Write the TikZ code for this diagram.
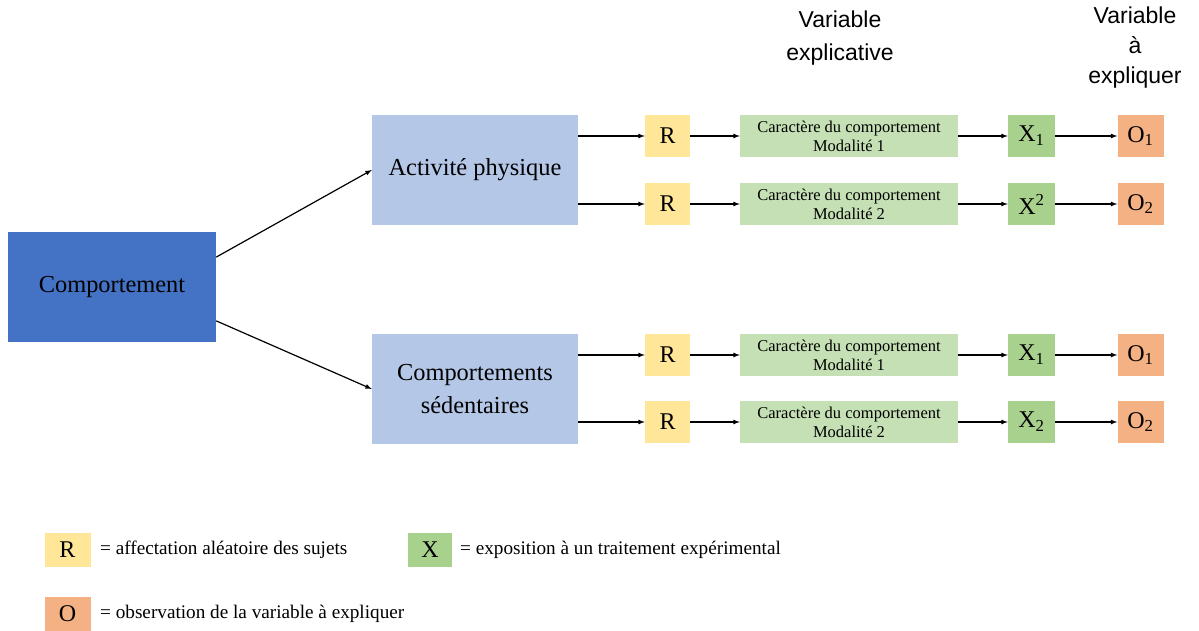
\documentclass[tikz,border=0pt]{standalone}
\usepackage{fontspec}
\setmainfont{Liberation Serif}
\setsansfont{Liberation Sans}
\definecolor{compblue}{HTML}{4472C4}
\definecolor{lightblue}{HTML}{B4C7E7}
\definecolor{ryellow}{HTML}{FFE699}
\definecolor{lightgreen}{HTML}{C5E0B4}
\definecolor{xgreen}{HTML}{A9D18E}
\definecolor{oorange}{HTML}{F4B183}
\begin{document}
\begin{tikzpicture}[x=1pt,y=-1pt]
\tikzstyle{bigbox}=[inner sep=0pt,align=center,minimum width=206pt,minimum height=110pt,font=\fontsize{24.4}{33}\selectfont]
\tikzstyle{rbox}=[fill=ryellow,inner sep=0pt,minimum width=45pt,minimum height=42pt,font=\fontsize{24}{28}\selectfont]
\tikzstyle{carbox}=[fill=lightgreen,inner sep=0pt,align=center,minimum width=218pt,minimum height=42pt,font=\fontsize{16.5}{19}\selectfont]
\tikzstyle{xbox}=[fill=xgreen,inner sep=0pt,minimum width=47pt,minimum height=42pt,font=\fontsize{24}{28}\selectfont]
\tikzstyle{obox}=[fill=oorange,inner sep=0pt,minimum width=46pt,minimum height=42pt,font=\fontsize{24}{28}\selectfont]
\tikzstyle{legtext}=[anchor=west,inner sep=0pt,font=\fontsize{19.2}{23}\selectfont]
\tikzstyle{arr}=[-latex,line width=1.2pt]
\useasboundingbox (0,0) rectangle (1199,631);

% headers
\node[align=center,font=\sffamily\fontsize{23}{33}\selectfont] at (840,38) (hexp) {Variable\\explicative};
\node[align=center,font=\sffamily\fontsize{23}{30}\selectfont] at (1135,48) (hobs) {Variable\\à\\expliquer};

% left part
\node[bigbox,fill=compblue,minimum width=208pt] at (112,287) (comp) {Comportement};
\node[bigbox,fill=lightblue] at (475,170) (act) {Activité physique};
\node[bigbox,fill=lightblue] at (475,389) (sed) {Comportements\\sédentaires};

\draw[arr] (comp.16.6) -- (act.west);
\draw[arr] (comp.-18.6) -- (sed.west);

% rows
\node[rbox] at (667.5,136) (r1) {R};
\node[rbox] at (667.5,204) (r2) {R};
\node[rbox] at (667.5,355) (r3) {R};
\node[rbox] at (667.5,422) (r4) {R};

\node[carbox] at (849,136) (c1) {Caractère du comportement\\Modalité 1};
\node[carbox] at (849,204) (c2) {Caractère du comportement\\Modalité 2};
\node[carbox] at (849,355) (c3) {Caractère du comportement\\Modalité 1};
\node[carbox] at (849,422) (c4) {Caractère du comportement\\Modalité 2};

\node[xbox] at (1031.5,136) (x1) {X\textsubscript{1}};
\node[xbox] at (1031.5,204) (x2) {X\textsuperscript{2}};
\node[xbox] at (1031.5,355) (x3) {X\textsubscript{1}};
\node[xbox] at (1031.5,422) (x4) {X\textsubscript{2}};

\node[obox] at (1140.5,136) (o1) {O\textsubscript{1}};
\node[obox] at (1140.5,204) (o2) {O\textsubscript{2}};
\node[obox] at (1140.5,355) (o3) {O\textsubscript{1}};
\node[obox] at (1140.5,422) (o4) {O\textsubscript{2}};

\draw[arr] (act.east |- r1.west) -- (r1);
\draw[arr] (act.east |- r2.west) -- (r2);
\draw[arr] (sed.east |- r3.west) -- (r3);
\draw[arr] (sed.east |- r4.west) -- (r4);

\draw[arr] (r1) -- (c1);
\draw[arr] (r2) -- (c2);
\draw[arr] (r3) -- (c3);
\draw[arr] (r4) -- (c4);

\draw[arr] (c1) -- (x1);
\draw[arr] (c2) -- (x2);
\draw[arr] (c3) -- (x3);
\draw[arr] (c4) -- (x4);

\draw[arr] (x1) -- (o1);
\draw[arr] (x2) -- (o2);
\draw[arr] (x3) -- (o3);
\draw[arr] (x4) -- (o4);

% legend
\node[rbox,minimum width=46pt,minimum height=34pt] at (67.5,550) (lr) {R};
\node[legtext] at (100,550) (lrt) {= affectation aléatoire des sujets};
\node[xbox,minimum width=44pt,minimum height=34pt] at (430,550) (lx) {X};
\node[legtext] at (460,550) (lxt) {= exposition à un traitement expérimental};
\node[obox,minimum width=46pt,minimum height=34pt] at (67.5,614) (lo) {O};
\node[legtext] at (100,614) (lot) {= observation de la variable à expliquer};
\end{tikzpicture}
\end{document}
